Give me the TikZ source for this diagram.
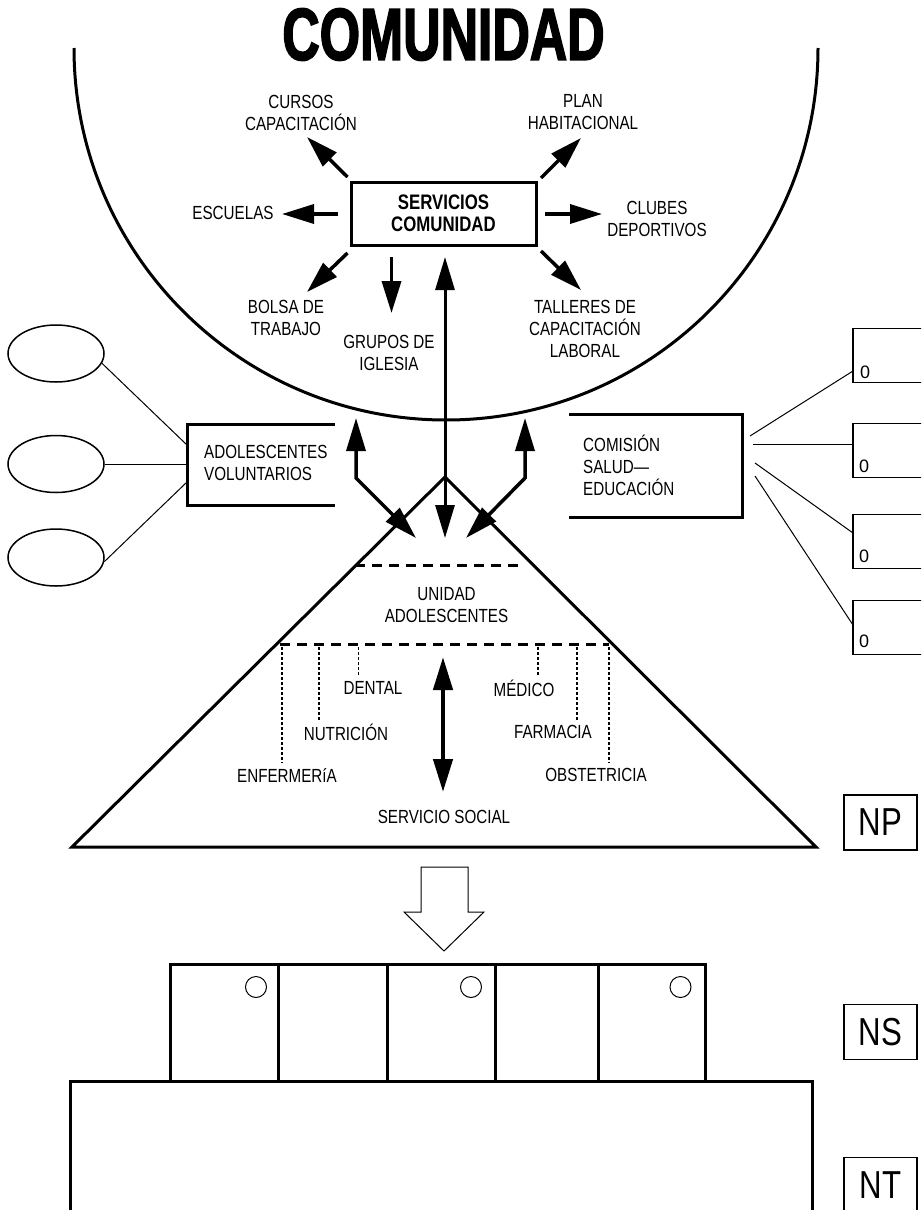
\documentclass[tikz,border=0pt]{standalone}
\usepackage{fontspec}
\setmainfont{Liberation Sans}[FakeStretch=0.8]
\newfontfamily\titlefont{Liberation Sans Bold}[FakeStretch=0.7,FakeBold=2]
\newfontfamily\zerofont{Liberation Sans}
\usetikzlibrary{arrows.meta,shapes.geometric}
\begin{document}
\begin{tikzpicture}[x=1pt,y=-1pt,
  lbl/.style={font=\fontsize{19}{22}\selectfont, align=center, inner sep=0pt},
  boldlbl/.style={font=\bfseries\fontsize{21}{22}\selectfont, align=center},
  thickline/.style={line width=3pt},
  thinline/.style={line width=1pt},
  arr/.style={line width=3.5pt, -{Triangle[length=32pt,width=19pt]}},
  darr/.style={line width=3.5pt, {Triangle[length=33pt,width=19pt]}-{Triangle[length=33pt,width=19pt]}},
  dashline/.style={line width=3pt, dash pattern=on 10pt off 7pt},
  dotline/.style={line width=1.2pt, dash pattern=on 3pt off 2pt},
  oval/.style={ellipse, draw, line width=1.5pt, minimum width=96pt, minimum height=57pt},
  sidebox/.style={draw, line width=1.5pt, minimum width=100pt, minimum height=54pt},
  levelbox/.style={draw, line width=1.5pt, minimum width=73pt, minimum height=55pt, font=\fontsize{39}{40}\selectfont},
  zero/.style={font=\zerofont\fontsize{18}{18}\selectfont, inner sep=0pt}
]
\useasboundingbox (0,0) rectangle (921,1210);
\clip (0,0) rectangle (921,1210);

% Title and community circle
\node[font=\titlefont\fontsize{74}{74}\selectfont, inner sep=0pt] (title) at (443.5,34.5) {COMUNIDAD};
\draw[thickline] (74,48) arc[start angle=180, end angle=0, radius=372];

% Servicios comunidad
\node[boldlbl, draw, line width=3pt, minimum width=185pt, minimum height=63pt, inner sep=0pt] (serv) at (443.5,213.5) {SERVICIOS\\COMUNIDAD};

\node[lbl] (cursos) at (301,112.5) {CURSOS\\CAPACITACIÓN};
\node[lbl] (plan) at (583,112.5) {PLAN\\HABITACIONAL};
\node[lbl] (escuelas) at (233,213) {ESCUELAS};
\node[lbl] (clubes) at (657,219) {CLUBES\\DEPORTIVOS};
\node[lbl] (bolsa) at (286,318) {BOLSA DE\\TRABAJO};
\node[lbl] (grupos) at (389,353) {GRUPOS DE\\IGLESIA};
\node[lbl] (talleres) at (585,329) {TALLERES DE\\CAPACITACIÓN\\LABORAL};

\coordinate (ulA) at (347.5,177); \coordinate (ulB) at (307,137);
\coordinate (urA) at (541,178);   \coordinate (urB) at (581,138);
\coordinate (lA) at (338,214);    \coordinate (lB) at (282,214);
\coordinate (rA) at (545,214);    \coordinate (rB) at (602,214);
\coordinate (llA) at (347.5,253); \coordinate (llB) at (307,292);
\coordinate (dA) at (391.5,257);  \coordinate (dB) at (391.5,313);
\coordinate (lrA) at (541,251);   \coordinate (lrB) at (581,290);
\draw[arr] (ulA) -- (ulB);
\draw[arr] (urA) -- (urB);
\draw[arr] (lA) -- (lB);
\draw[arr] (rA) -- (rB);
\draw[arr] (llA) -- (llB);
\draw[arr] (dA) -- (dB);
\draw[arr] (lrA) -- (lrB);

% central link
\coordinate (cTop) at (445,257); \coordinate (cBot) at (445,538);
\draw[darr, line width=3pt] (cTop) -- (cBot);

% Adolescentes voluntarios
\draw[thickline] (335,424) -| (187,505) -- (335,505);
\node[lbl, align=left, anchor=west] (vol) at (204,463) {ADOLESCENTES\\VOLUNTARIOS};
\node[oval] (e1) at (56,353.5) {};
\node[oval] (e2) at (56,464) {};
\node[oval] (e3) at (56,557.5) {};
\coordinate (v1) at (187,445); \coordinate (v2) at (187,464); \coordinate (v3) at (187,482);
\draw[thinline] (e1.-12) -- (v1);
\draw[thinline] (e2) -- (v2);
\draw[thinline] (e3.-5) -- (v3);

% Comision salud-educacion
\draw[thickline] (569,414) -| (742,517) -- (569,517);
\node[lbl, align=left, anchor=west] (com) at (583,465) {COMISIÓN\\SALUD—\\EDUCACIÓN};
\node[sidebox] (r1) at (903,355.5) {};
\node[sidebox] (r2) at (903,450.5) {};
\node[sidebox] (r3) at (903,541.5) {};
\node[sidebox] (r4) at (903,627.5) {};
\node[zero] (z1) at (865,372) {0};
\node[zero] (z2) at (864,466) {0};
\node[zero] (z3) at (864,556) {0};
\node[zero] (z4) at (864,641) {0};
\coordinate (c1) at (750,436); \coordinate (c2) at (753,444);
\coordinate (c3) at (755,463); \coordinate (c4) at (755,476);
\coordinate (r1in) at (853,371); \coordinate (r2in) at (853,444);
\coordinate (r3in) at (853,533); \coordinate (r4in) at (853,625);
\draw[thinline] (c1) -- (r1in);
\draw[thinline] (c2) -- (r2in);
\draw[thinline] (c3) -- (r3in);
\draw[thinline] (c4) -- (r4in);

% bent double arrows
\coordinate (bl1) at (416,538); \coordinate (bl2) at (356,478); \coordinate (bl3) at (356,418);
\coordinate (br1) at (466,538); \coordinate (br2) at (525,478); \coordinate (br3) at (525,418);
\draw[darr] (bl1) -- (bl2) -- (bl3);
\draw[darr] (br1) -- (br2) -- (br3);

% Pyramid
\coordinate (pL) at (72,847); \coordinate (pA) at (445,477); \coordinate (pR) at (816,847);
\draw[thickline, line join=miter] (pL) -- (pA) -- (pR) -- cycle;
\draw[dashline] (355,565) -- (525,565);
\draw[dashline] (280,644) -- (609,644);
\node[lbl] (unidad) at (446.5,605) {UNIDAD\\ADOLESCENTES};
\draw[dotline] (282,647) -- (282,763);
\draw[dotline] (319,647) -- (319,720);
\draw[dotline] (358.5,647) -- (358.5,675);
\draw[dotline] (538,647) -- (538,675);
\draw[dotline] (577,647) -- (577,720);
\draw[dotline] (609,647) -- (609,763);
\node[lbl] (dental) at (373,688) {DENTAL};
\node[lbl] (nutri) at (346,732) {NUTRICIÓN};
\node[lbl] (enfer) at (287,775) {ENFERMERíA};
\node[lbl] (medico) at (524,688) {MÉDICO};
\node[lbl] (farma) at (553,732) {FARMACIA};
\node[lbl] (obste) at (596,775) {OBSTETRICIA};
\node[lbl] (social) at (444,817) {SERVICIO SOCIAL};
\coordinate (sTop) at (443,657); \coordinate (sBot) at (443,792);
\draw[darr, line width=4.5pt] (sTop) -- (sBot);

% hollow arrow
\draw[line width=1pt] (421,867) -- (468,867) -- (468,912) -- (484,912) -- (444,951) -- (404,912) -- (421,912) -- cycle;

% secondary level blocks
\draw[thickline] (170,1081) rectangle (705,964);
\draw[thickline] (278.6,964) -- (278.6,1081);
\draw[thickline] (387,964) -- (387,1081);
\draw[thickline] (495.5,964) -- (495.5,1081);
\draw[thickline] (598,964) -- (598,1081);
\draw[thinline] (256,987) circle[radius=10.5];
\draw[thinline] (471,987) circle[radius=10.5];
\draw[thinline] (680.5,987) circle[radius=10.5];

% tertiary level block
\draw[thickline] (70,1220) -- (70,1081) -- (812,1081) -- (812,1220);

% level labels
\node[levelbox] (np) at (880.5,822.5) {NP};
\node[levelbox] (ns) at (880.5,1032) {NS};
\node[levelbox] (nt) at (880.5,1185) {NT};
\end{tikzpicture}
\end{document}
